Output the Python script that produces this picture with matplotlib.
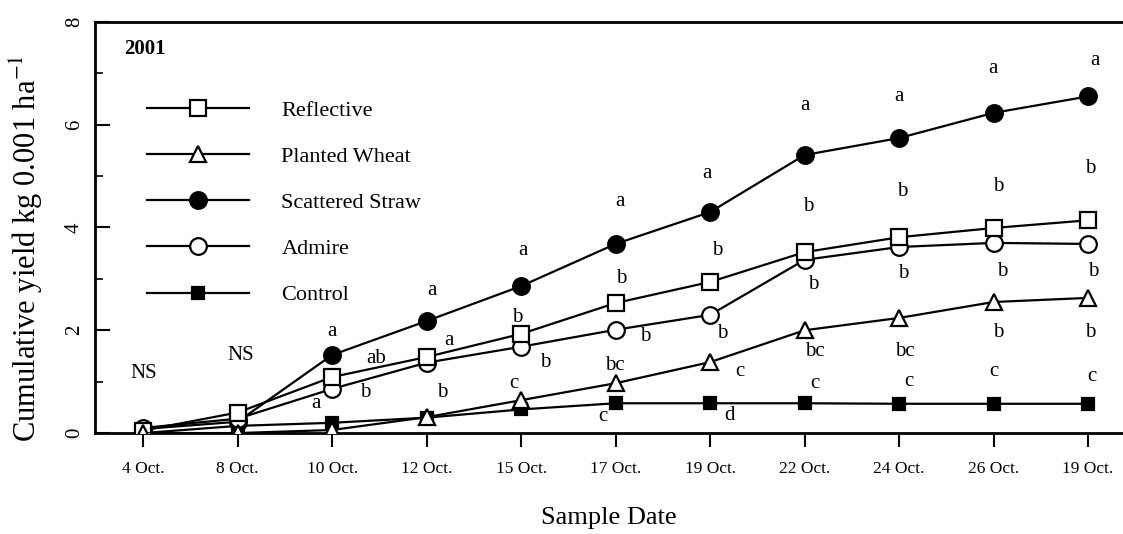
import matplotlib
matplotlib.use('Agg')
import matplotlib.pyplot as plt

plt.rcParams['font.family'] = ['Liberation Serif', 'DejaVu Serif']
plt.rcParams['mathtext.fontset'] = 'stix'

dates = ['4 Oct.', '8 Oct.', '10 Oct.', '12 Oct.', '15 Oct.', '17 Oct.',
         '19 Oct.', '22 Oct.', '24 Oct.', '26 Oct.', '19 Oct.']
x = list(range(len(dates)))

reflective = [0.05, 0.40, 1.09, 1.48, 1.93, 2.53, 2.94, 3.52, 3.81, 3.99, 4.14]
planted_wheat = [0.0, 0.0, 0.06, 0.31, 0.64, 0.97, 1.38, 2.0, 2.24, 2.55, 2.63]
scattered_straw = [0.08, 0.22, 1.52, 2.18, 2.86, 3.68, 4.30, 5.41, 5.74, 6.23, 6.55]
admire = [0.1, 0.28, 0.86, 1.37, 1.68, 2.01, 2.30, 3.37, 3.62, 3.70, 3.68]
control = [0.0, 0.14, 0.2, 0.3, 0.46, 0.58, 0.58, 0.58, 0.57, 0.57, 0.57]

# significance letters: (date index, y value, letter)
letters = [
    (0.0, 1.15, 'NS'), (1.03, 1.5, 'NS'),
    (2.0, 1.98, 'a'), (2.46, 1.45, 'ab'), (2.35, 0.78, 'b'), (1.83, 0.58, 'a'),
    (3.06, 2.78, 'a'), (3.24, 1.8, 'a'), (3.16, 0.78, 'b'),
    (4.02, 3.55, 'a'), (3.96, 2.25, 'b'), (4.26, 1.38, 'b'), (3.92, 0.96, 'c'),
    (5.05, 4.5, 'a'), (5.06, 3.0, 'b'), (5.31, 1.88, 'b'), (4.99, 1.32, 'bc'), (4.86, 0.32, 'c'),
    (5.97, 5.05, 'a'), (6.08, 3.55, 'b'), (6.13, 1.94, 'b'), (6.32, 1.2, 'c'), (6.21, 0.34, 'd'),
    (7.0, 6.38, 'a'), (7.04, 4.4, 'b'), (7.09, 2.9, 'b'), (7.11, 1.58, 'bc'), (7.11, 0.97, 'c'),
    (8.0, 6.55, 'a'), (8.03, 4.7, 'b'), (8.04, 3.1, 'b'), (8.06, 1.58, 'bc'), (8.1, 1.01, 'c'),
    (8.99, 7.1, 'a'), (9.05, 4.8, 'b'), (9.09, 3.15, 'b'), (9.05, 1.95, 'b'), (9.0, 1.2, 'c'),
    (10.07, 7.25, 'a'), (10.02, 5.15, 'b'), (10.05, 3.15, 'b'), (10.02, 1.95, 'b'), (10.04, 1.1, 'c'),
]

fig = plt.figure(figsize=(11.23, 5.34), dpi=100)
ax = fig.add_axes([0.0846, 0.189, 0.9154, 0.77])

kw = dict(color='black', linewidth=1.6, markeredgewidth=1.6, markeredgecolor='black')
ax.plot(x, reflective, marker='s', markersize=11, markerfacecolor='white', label='Reflective', zorder=4, **kw)
ax.plot(x, planted_wheat, marker='^', markersize=11, markerfacecolor='white', label='Planted Wheat', zorder=5, **kw)
ax.plot(x, scattered_straw, marker='o', markersize=12, markerfacecolor='black', label='Scattered Straw', zorder=3, **kw)
ax.plot(x, admire, marker='o', markersize=12, markerfacecolor='white', label='Admire', zorder=3, **kw)
ax.plot(x, control, marker='s', markersize=8, markerfacecolor='black', label='Control', zorder=2, **kw)

for xi, yi, t in letters:
    ax.text(xi, yi, t, fontsize=15, ha='center', va='center')

ax.text(-0.2, 7.48, '2001', fontsize=15, fontweight='bold', ha='left', va='center')

leg = ax.legend(loc='upper left', bbox_to_anchor=(0.031, 0.858), frameon=False,
                fontsize=16, handlelength=4.6, handletextpad=1.45, labelspacing=1.15,
                markerscale=1.0)

ax.set_xlim(-0.51, 10.37)
ax.set_ylim(0, 8)
ax.set_xticks(x)
ax.set_xticklabels(dates, fontsize=12.5)
ax.set_yticks([0, 2, 4, 6, 8])
ax.set_yticks([1, 3, 5, 7], minor=True)
ax.tick_params(axis='y', direction='in', length=11, width=1.5, labelsize=15, pad=8)
ax.tick_params(axis='y', which='minor', direction='in', length=6, width=1.2)
ax.tick_params(axis='x', direction='out', length=10, width=1.5, pad=10)
for lbl in ax.get_yticklabels():
    lbl.set_rotation(90)
    lbl.set_va('center')

ax.spines['right'].set_visible(False)
for s in ['left', 'top', 'bottom']:
    ax.spines[s].set_linewidth(2)

ax.set_xlabel('Sample Date', fontsize=19, labelpad=22)
ax.set_ylabel(r'Cumulative yield kg 0.001 ha$^{-1}$', fontsize=22)
ax.yaxis.set_label_coords(-0.049, 0.45)

fig.savefig('out.png', dpi=100)
